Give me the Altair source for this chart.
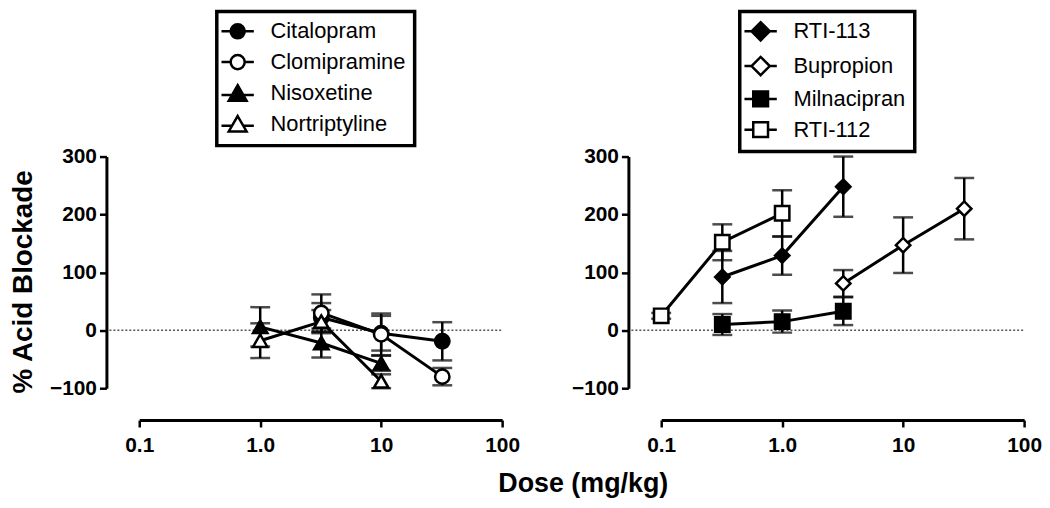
import altair as alt
import pandas as pd

FONT = "'Liberation Sans', Arial, Helvetica, sans-serif"

# ---------------- data ----------------
left_drugs = ["Citalopram", "Clomipramine", "Nisoxetine", "Nortriptyline"]
right_drugs = ["RTI-113", "Bupropion", "Milnacipran", "RTI-112"]

citalopram_dose = [3.2, 10, 32]
citalopram_mean = [22, -5, -19]
citalopram_sem = [25, 30, 33]

clomipramine_dose = [3.2, 10, 32]
clomipramine_mean = [30, -7, -80]
clomipramine_sem = [32, 36, 15]

nisoxetine_dose = [1, 3.2, 10]
nisoxetine_mean = [6, -22, -57]
nisoxetine_sem = [34, 25, 13]

nortriptyline_dose = [1, 3.2, 10]
nortriptyline_mean = [-18, 15, -88]
nortriptyline_sem = [30, 20, 12]

rti113_dose = [0.32, 1, 3.2]
rti113_mean = [92, 129, 248]
rti113_sem = [45, 33, 52]

bupropion_dose = [3.2, 10, 32]
bupropion_mean = [81, 147, 210]
bupropion_sem = [23, 48, 53]

milnacipran_dose = [0.32, 1, 3.2]
milnacipran_mean = [10, 15, 33]
milnacipran_sem = [18, 19, 24]

rti112_dose = [0.1, 0.32, 1]
rti112_mean = [25, 152, 202]
rti112_sem = [5, 31, 40]

x_ticks = [0.1, 1, 10, 100]
y_ticks = [-100, 0, 100, 200, 300]
zero_line = [0]

series = {
    "Citalopram": (citalopram_dose, citalopram_mean, citalopram_sem),
    "Clomipramine": (clomipramine_dose, clomipramine_mean, clomipramine_sem),
    "Nisoxetine": (nisoxetine_dose, nisoxetine_mean, nisoxetine_sem),
    "Nortriptyline": (nortriptyline_dose, nortriptyline_mean, nortriptyline_sem),
    "RTI-113": (rti113_dose, rti113_mean, rti113_sem),
    "Bupropion": (bupropion_dose, bupropion_mean, bupropion_sem),
    "Milnacipran": (milnacipran_dose, milnacipran_mean, milnacipran_sem),
    "RTI-112": (rti112_dose, rti112_mean, rti112_sem),
}

rows = []
for name, (d, m, s) in series.items():
    for dd, mm, ss in zip(d, m, s):
        rows.append({"drug": name, "dose": dd, "mean": mm, "lo": mm - ss, "hi": mm + ss})
df = pd.DataFrame(rows)
zero_df = pd.DataFrame({"y": zero_line})

# ---------------- styling ----------------
W, H = 365, 233
OFF = 33

# legend glyphs: marker with a short line through it
CIRC = "M-2.3,0H-1M1,0H2.3M1,0A1,1,0,1,1,-1,0A1,1,0,1,1,1,0Z"
TRI = "M-2.3,0.3H-0.81M0.81,0.3H2.3M0,-1.1L1.27,1.1H-1.27Z"
DIAM = "M-2.3,0H-1.3M1.3,0H2.3M-1.3,0L0,-1.3L1.3,0L0,1.3Z"
SQR = "M-2.3,0H-1.05M1.05,0H2.3M-1.05,-1.05H1.05V1.05H-1.05Z"

label_expr = ("datum.value < 0.5 ? '0.1' : datum.value < 5 ? '1.0' : "
              "datum.value < 50 ? '10' : '100'")


def panel(drugs, shapes, sizes, legend_shapes, ytitle, legend_x):
    data = df[df["drug"].isin(drugs)]
    fills = ["black", "white", "black", "white"]

    x_enc = alt.X(
        "dose:Q",
        scale=alt.Scale(type="log", domain=[0.1, 100], nice=False),
        axis=alt.Axis(values=x_ticks, labelExpr=label_expr, offset=OFF - 1,
                      title=None, labelPadding=8, labelFlush=False),
    )
    yaxis = alt.Axis(values=y_ticks, offset=OFF, title=ytitle, titlePadding=12,
                     labelPadding=3, titleY=H / 2 + 9)
    yscale = alt.Scale(domain=[-100, 300], nice=False)

    base = alt.Chart(data)
    zero = alt.Chart(zero_df).mark_rule(
        color="#555", strokeDash=[2, 2], strokeWidth=1.5
    ).encode(y=alt.Y("y:Q", scale=yscale, axis=yaxis), x=alt.value(-OFF + 3), x2=alt.value(W))

    lines = base.mark_line(color="black", strokeWidth=3).encode(
        x=x_enc, y=alt.Y("mean:Q", scale=yscale, axis=yaxis), detail="drug:N"
    )
    bars = base.mark_rule(color="black", strokeWidth=2.5).encode(
        x=x_enc, y=alt.Y("lo:Q", scale=yscale, axis=yaxis), y2="hi:Q"
    )
    cap_lo = base.mark_tick(orient="horizontal", size=20, thickness=2.5, color="black").encode(
        x=x_enc, y=alt.Y("lo:Q", scale=yscale, axis=yaxis)
    )
    cap_hi = base.mark_tick(orient="horizontal", size=20, thickness=2.5, color="black").encode(
        x=x_enc, y=alt.Y("hi:Q", scale=yscale, axis=yaxis)
    )
    pts = base.mark_point(filled=True, opacity=1, stroke="black", strokeWidth=2.5).encode(
        x=x_enc,
        y=alt.Y("mean:Q", scale=yscale, axis=yaxis),
        shape=alt.Shape("drug:N", scale=alt.Scale(domain=drugs, range=shapes), legend=None),
        fill=alt.Fill("drug:N", scale=alt.Scale(domain=drugs, range=fills), legend=None),
        size=alt.Size("drug:N", scale=alt.Scale(domain=drugs, range=sizes), legend=None),
    )
    leg = alt.Legend(
        title=None,
        orient="none",
        legendX=legend_x,
        legendY=-146,
        strokeColor="black",
        padding=9,
        labelFont=FONT,
        labelFontSize=22,
        labelColor="black",
        symbolSize=200,
        symbolStrokeWidth=2.5,
        symbolStrokeColor="black",
        symbolOffset=1,
        labelOffset=22,
        rowPadding=5,
    )
    legend_layer = base.transform_filter("false").mark_point(
        filled=False, opacity=1, strokeWidth=2.5
    ).encode(
        x=x_enc,
        y=alt.Y("mean:Q", scale=yscale, axis=yaxis),
        shape=alt.Shape("drug:N", scale=alt.Scale(domain=drugs, range=legend_shapes), legend=leg, sort=drugs),
        fill=alt.Fill("drug:N", scale=alt.Scale(domain=drugs, range=fills), legend=leg, sort=drugs),
        stroke=alt.Stroke("drug:N", scale=alt.Scale(domain=drugs, range=["black"] * 4), legend=leg, sort=drugs),
    )
    return alt.layer(zero, lines, bars, cap_lo, cap_hi, pts, legend_layer).resolve_scale(
        shape="independent", fill="independent", stroke="independent"
    ).properties(width=W, height=H)


left = panel(
    left_drugs,
    ["circle", "circle", "triangle-up", "triangle-up"],
    [210, 210, 400, 400],
    [CIRC, CIRC, TRI, TRI],
    "% Acid Blockade",
    78,
)
right = panel(
    right_drugs,
    ["diamond", "diamond", "square", "square"],
    [290, 290, 256, 256],
    [DIAM, DIAM, SQR, SQR],
    None,
    79,
)

chart = alt.hconcat(left, right, spacing=51).properties(
    padding={"left": 1, "top": 0, "right": 0, "bottom": 0},
    title=alt.TitleParams(
        "Dose (mg/kg)", orient="bottom", anchor="middle", fontSize=27,
        fontWeight="bold", font=FONT, color="black", offset=15, dx=58,
    ),
).configure_view(strokeWidth=0).configure_axis(
    domainColor="black", tickColor="black", labelColor="black",
    labelFont=FONT, labelFontSize=21, labelFontWeight="bold",
    domainWidth=3, tickWidth=2.5, tickSize=7, grid=False,
    titleFont=FONT, titleFontSize=28, titleFontWeight="bold", titleColor="black",
).configure_legend(strokeWidth=3.5)

chart.save("out.html", embed_options={"renderer": "svg", "actions": False})
